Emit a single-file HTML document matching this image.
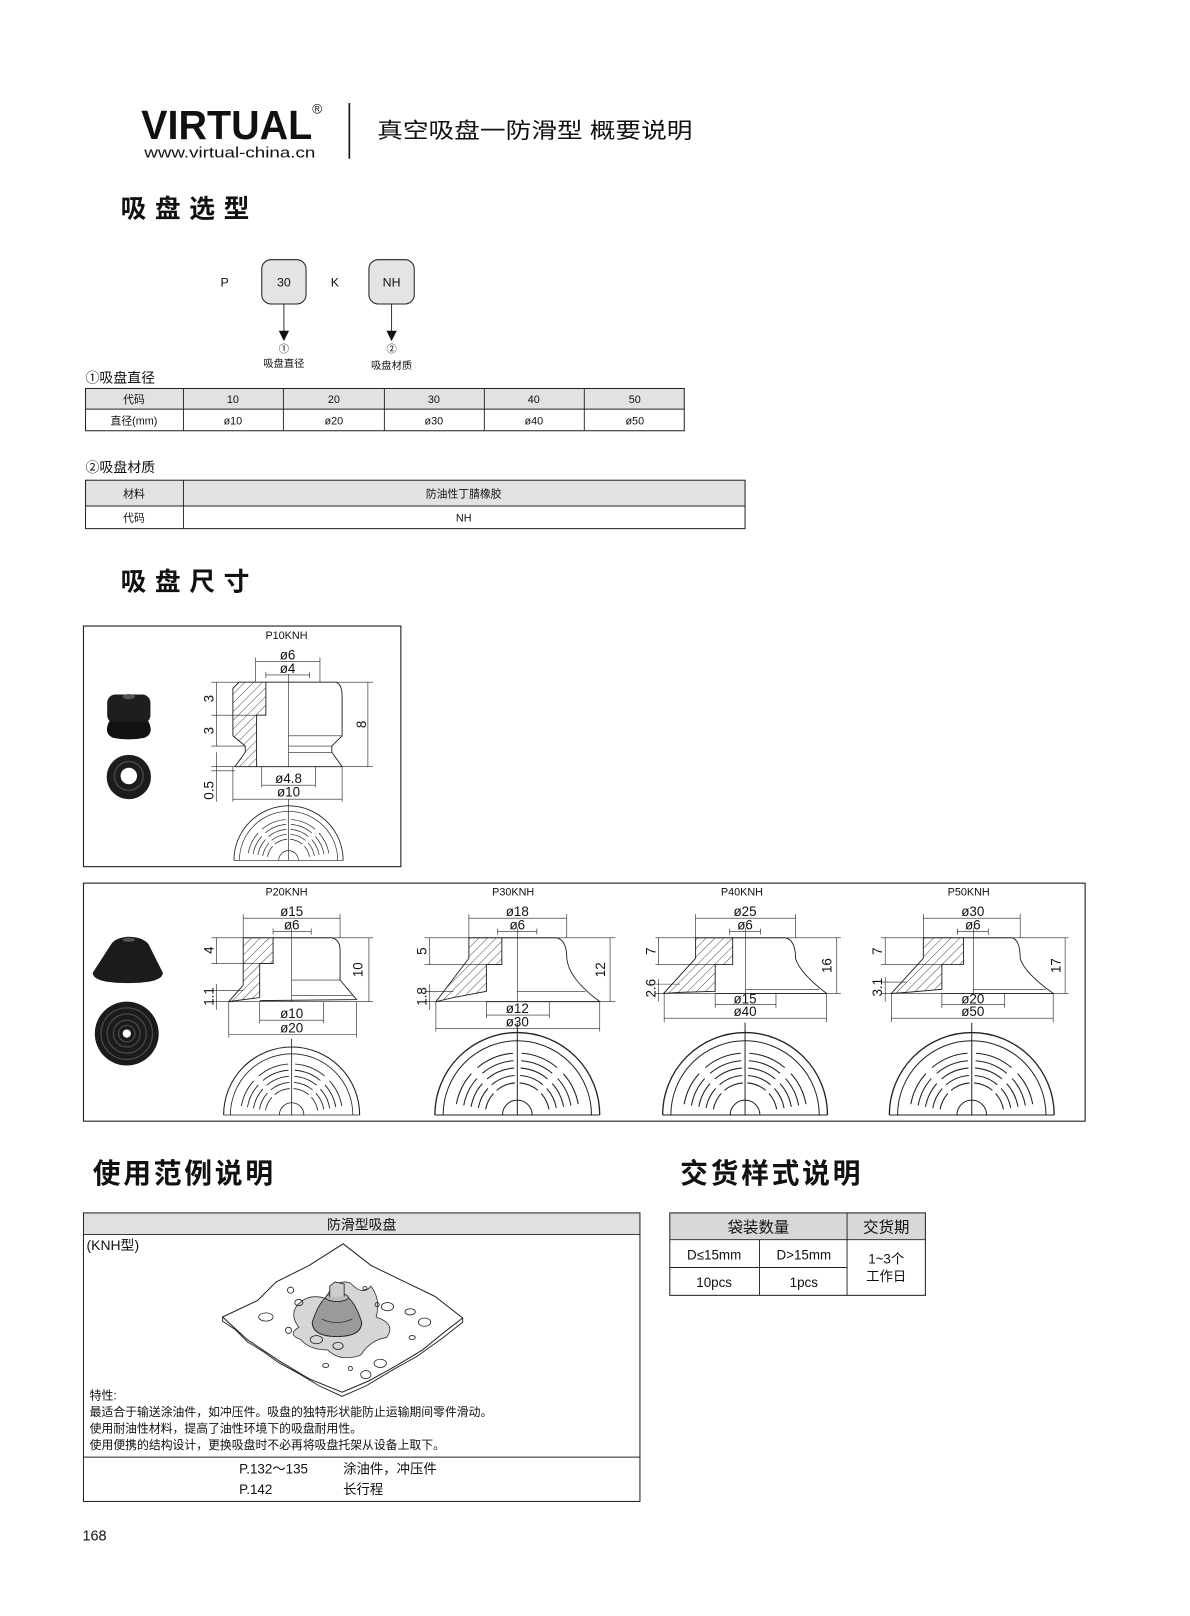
<!DOCTYPE html>
<html><head><meta charset="utf-8">
<style>
html,body{margin:0;padding:0;background:#fff}
svg{display:block}
text{font-family:"Liberation Sans","Noto Sans CJK SC",sans-serif;fill:#111}
.d{font-size:13px;fill:#222}
.ln{stroke:#222;stroke-width:0.9;fill:none}
.th{stroke:#222;stroke-width:0.6;fill:none}
</style></head><body>
<svg width="1190" height="1616" viewBox="0 0 1190 1616" xmlns="http://www.w3.org/2000/svg">
<defs>
<pattern id="h" width="6" height="6" patternUnits="userSpaceOnUse" patternTransform="rotate(45)">
<line x1="0" y1="0" x2="0" y2="6" stroke="#222" stroke-width="0.8"/>
</pattern>
<g id="bv" fill="none" stroke="#222">
<path d="M-100,0 A100,100 0 0 1 100,0" stroke-width="1.6"/>
<path d="M-90,0 A90,90 0 0 1 90,0" stroke-width="1.2"/>
<g stroke-width="1.3">
<path d="M38.4,-6.8 A39,39 0 0 0 29,-26.1 M25.1,-29.9 A39,39 0 0 0 2.7,-38.9 M-2.7,-38.9 A39,39 0 0 0 -25.1,-29.9 M-29,-26.1 A39,39 0 0 0 -38.4,-6.8"/>
<path d="M47.3,-8.4 A48,48 0 0 0 35.7,-32.1 M30.9,-36.8 A48,48 0 0 0 3.4,-47.9 M-3.4,-47.9 A48,48 0 0 0 -30.9,-36.8 M-35.7,-32.1 A48,48 0 0 0 -47.3,-8.4"/>
<path d="M56.1,-9.9 A57,57 0 0 0 42.4,-38.1 M36.7,-43.7 A57,57 0 0 0 4,-56.9 M-4,-56.9 A57,57 0 0 0 -36.7,-43.7 M-42.4,-38.1 A57,57 0 0 0 -56.1,-9.9"/>
<path d="M65,-11.5 A66,66 0 0 0 49,-44.2 M42.4,-50.6 A66,66 0 0 0 4.6,-65.8 M-4.6,-65.8 A66,66 0 0 0 -42.4,-50.6 M-49,-44.2 A66,66 0 0 0 -65,-11.5"/>
<path d="M73.9,-13.1 A75,75 0 0 0 55.7,-50.2 M48.2,-57.5 A75,75 0 0 0 5.2,-74.9 M-5.2,-74.9 A75,75 0 0 0 -48.2,-57.5 M-55.7,-50.2 A75,75 0 0 0 -73.9,-13.1"/>
</g>
<path d="M-18,0 A18,18 0 0 1 18,0" stroke-width="1.2"/>
<line x1="0" y1="-112" x2="0" y2="0" stroke-width="1.2"/>
<line x1="-100" y1="0" x2="100" y2="0" stroke-width="1.2"/>
</g>
</defs>
<g transform="scale(1.0305)">
<text x="137" y="135" font-size="40" font-weight="bold" textLength="166" lengthAdjust="spacingAndGlyphs">VIRTUAL</text>
<text x="303" y="110" font-size="13">®</text>
<text x="140" y="153" font-size="14" textLength="166" lengthAdjust="spacingAndGlyphs">www.virtual-china.cn</text>
<line x1="339" y1="100" x2="339" y2="154" stroke="#111" stroke-width="1.6"/>
<text x="366" y="134" font-size="21" textLength="306" lengthAdjust="spacingAndGlyphs">真空吸盘一防滑型  概要说明</text>
<text x="117" y="211" font-size="25" font-weight="bold" textLength="125" lengthAdjust="spacing">吸盘选型</text>

<text x="218" y="278" font-size="12" text-anchor="middle">P</text>
<rect x="254" y="252" width="43" height="43" rx="9" fill="#e4e4e4" stroke="#222" stroke-width="1"/>
<text x="275.5" y="278" font-size="12" text-anchor="middle">30</text>
<text x="325" y="278" font-size="12" text-anchor="middle">K</text>
<rect x="358" y="252" width="44" height="43" rx="9" fill="#e4e4e4" stroke="#222" stroke-width="1"/>
<text x="380" y="278" font-size="12" text-anchor="middle">NH</text>
<line x1="275.5" y1="295" x2="275.5" y2="322" class="ln"/>
<polygon points="270.5,321 280.5,321 275.5,331" fill="#111"/>
<line x1="380" y1="295" x2="380" y2="322" class="ln"/>
<polygon points="375,321 385,321 380,331" fill="#111"/>
<text x="275.5" y="342" font-size="10" text-anchor="middle">①</text>
<text x="275.5" y="356" font-size="10" text-anchor="middle">吸盘直径</text>
<text x="380" y="342" font-size="10" text-anchor="middle">②</text>
<text x="380" y="358" font-size="10" text-anchor="middle">吸盘材质</text>

<text x="83" y="371" font-size="13.5">①吸盘直径</text>
<rect x="83" y="377" width="581" height="20" fill="#e2e2e2"/>
<rect x="83" y="377" width="581" height="41" fill="none" stroke="#222" stroke-width="1"/>
<line x1="83" y1="397" x2="664" y2="397" class="ln"/>
<g class="ln"><line x1="178" y1="377" x2="178" y2="418"/><line x1="275" y1="377" x2="275" y2="418"/><line x1="373" y1="377" x2="373" y2="418"/><line x1="470" y1="377" x2="470" y2="418"/><line x1="567" y1="377" x2="567" y2="418"/></g>
<g font-size="10.5" text-anchor="middle">
<text x="130" y="391">代码</text><text x="226" y="391">10</text><text x="324" y="391">20</text><text x="421" y="391">30</text><text x="518" y="391">40</text><text x="616" y="391">50</text>
<text x="130" y="412">直径(mm)</text><text x="226" y="412">ø10</text><text x="324" y="412">ø20</text><text x="421" y="412">ø30</text><text x="518" y="412">ø40</text><text x="616" y="412">ø50</text>
</g>
<text x="83" y="458" font-size="13.5">②吸盘材质</text>
<rect x="83" y="466" width="640" height="25" fill="#e2e2e2"/>
<rect x="83" y="466" width="640" height="47" fill="none" stroke="#222" stroke-width="1"/>
<line x1="83" y1="491" x2="723" y2="491" class="ln"/>
<line x1="178" y1="466" x2="178" y2="513" class="ln"/>
<g font-size="10.5" text-anchor="middle">
<text x="130" y="483">材料</text><text x="450" y="483">防油性丁腈橡胶</text>
<text x="130" y="506">代码</text><text x="450" y="506">NH</text>
</g>

<text x="117" y="573" font-size="25" font-weight="bold" textLength="125" lengthAdjust="spacing">吸盘尺寸</text>

<rect x="81" y="607.5" width="308" height="233.5" fill="none" stroke="#222" stroke-width="1.1"/>
<text x="278" y="620" font-size="10.5" text-anchor="middle">P10KNH</text>
<rect x="104" y="674" width="42" height="28" rx="8" fill="#1e1e1e"/>
<ellipse cx="125" cy="676" rx="6" ry="2.5" fill="#555"/>
<path d="M106,700 L144,700 Q150,712 140,716 Q125,719 110,716 Q100,712 106,700Z" fill="#111"/>
<circle cx="125" cy="754" r="21.5" fill="#1c1c1c"/>
<circle cx="125" cy="753" r="14" fill="none" stroke="#444" stroke-width="1.5"/>
<circle cx="125" cy="753" r="8" fill="#fff"/>
<polygon points="232,662 258,662 258,694 249,694 249,744 228,744 238,730 238,724 226,714 226,668" fill="url(#h)" stroke="#222" stroke-width="0.9"/>
<path class="ln" d="M258,662 L326,662 Q332,664 332,676 L332,714 L322,724 L322,730 L332,744 L249,744"/>
<line class="th" x1="280" y1="654" x2="280" y2="744"/>
<line class="th" x1="280" y1="714" x2="332" y2="714"/>
<line class="th" x1="280" y1="724" x2="322" y2="724"/>
<line class="th" x1="280" y1="730" x2="322" y2="730"/>
<g class="th">
<line x1="205" y1="662" x2="362" y2="662"/><line x1="205" y1="694" x2="258" y2="694"/><line x1="205" y1="724" x2="238" y2="724"/>
<line x1="205" y1="744" x2="362" y2="744"/><line x1="205" y1="748" x2="228" y2="748"/>
<line x1="210" y1="662" x2="210" y2="724"/><line x1="210" y1="730" x2="210" y2="778"/>
<line x1="357" y1="662" x2="357" y2="744"/>
<line x1="248" y1="638" x2="248" y2="662"/><line x1="310.5" y1="638" x2="310.5" y2="662"/>
<line x1="248" y1="642" x2="310.5" y2="642"/>
<line x1="258" y1="655" x2="300.5" y2="655"/><line x1="258" y1="652" x2="258" y2="658"/><line x1="300.5" y1="652" x2="300.5" y2="658"/>
<line x1="254" y1="744" x2="254" y2="764"/><line x1="306" y1="744" x2="306" y2="764"/><line x1="254" y1="762" x2="306" y2="762"/>
<line x1="226" y1="744" x2="226" y2="778"/><line x1="332" y1="744" x2="332" y2="778"/><line x1="226" y1="775.5" x2="332" y2="775.5"/>
</g>
<g class="d" text-anchor="middle">
<text x="279" y="640">ø6</text><text x="279" y="653">ø4</text>
<text x="280" y="760">ø4.8</text><text x="280" y="773">ø10</text>
<text transform="translate(207,678) rotate(-90)">3</text>
<text transform="translate(207,709) rotate(-90)">3</text>
<text transform="translate(207,767) rotate(-90)">0.5</text>
<text transform="translate(355,703) rotate(-90)">8</text>
</g>
<use href="#bv" transform="translate(280,835) scale(0.53)"/>

<rect x="81" y="857" width="972" height="231" fill="none" stroke="#222" stroke-width="1.1"/>
<g font-size="10.5" text-anchor="middle">
<text x="278" y="869">P20KNH</text><text x="498" y="869">P30KNH</text><text x="720" y="869">P40KNH</text><text x="940" y="869">P50KNH</text>
</g>
<path d="M108,916 Q112,910 124,909 Q138,909 144,916 L158,944 Q158,954 124,954 Q90,954 90,944 Z" fill="#1b1b1b"/>
<ellipse cx="125" cy="912" rx="6" ry="2" fill="#555"/>
<circle cx="123" cy="1003" r="31" fill="#1b1b1b"/>
<g fill="none" stroke="#4a4a4a" stroke-width="1.2"><circle cx="123" cy="1003" r="25"/><circle cx="123" cy="1003" r="19"/><circle cx="123" cy="1003" r="13"/><circle cx="123" cy="1003" r="8"/></g>
<circle cx="123" cy="1003" r="4" fill="#fff"/>

<polygon points="236,910 265,910 265,935 252,935 252,968 222,972 236,956" fill="url(#h)" stroke="#222" stroke-width="0.9"/>
<path class="ln" d="M265,910 L322,910 Q330,912 330,922 L330,951 L346,970 L252,971"/>
<g class="th">
<line x1="283" y1="900" x2="283" y2="972"/><line x1="283" y1="951" x2="330" y2="951"/><line x1="283" y1="966" x2="342" y2="966"/>
<line x1="205" y1="910" x2="362" y2="910"/><line x1="205" y1="935" x2="265" y2="935"/><line x1="205" y1="961" x2="236" y2="961"/><line x1="205" y1="972" x2="362" y2="972"/>
<line x1="210" y1="910" x2="210" y2="935"/><line x1="210" y1="955" x2="210" y2="980"/>
<line x1="358" y1="910" x2="358" y2="972"/>
<line x1="236" y1="887" x2="236" y2="910"/><line x1="330" y1="887" x2="330" y2="910"/><line x1="236" y1="891" x2="330" y2="891"/>
<line x1="265" y1="904" x2="302" y2="904"/><line x1="265" y1="901" x2="265" y2="907"/><line x1="302" y1="901" x2="302" y2="907"/>
<line x1="252" y1="972" x2="252" y2="993"/><line x1="314" y1="972" x2="314" y2="993"/><line x1="252" y1="990" x2="314" y2="990"/>
<line x1="222" y1="972" x2="222" y2="1007"/><line x1="346" y1="972" x2="346" y2="1007"/><line x1="222" y1="1004" x2="346" y2="1004"/>
</g>
<g class="d" text-anchor="middle">
<text x="283" y="889">ø15</text><text x="283" y="902">ø6</text><text x="283" y="988">ø10</text><text x="283" y="1002">ø20</text>
<text transform="translate(207,922) rotate(-90)">4</text>
<text transform="translate(207,967) rotate(-90)">1.1</text>
<text transform="translate(352,941) rotate(-90)">10</text>
</g>
<use href="#bv" transform="translate(283,1082) scale(0.66)"/>

<polygon points="455,910 487,910 487,936 472,936 472,962 440,968 423,972 455,930" fill="url(#h)" stroke="#222" stroke-width="0.9"/>
<path class="ln" d="M487,910 L540,910 Q550,912 550,930 Q552,950 582,972 L472,972"/>
<g class="th">
<line x1="502" y1="900" x2="502" y2="972"/><line x1="502" y1="962" x2="568" y2="962"/>
<line x1="412" y1="910" x2="597" y2="910"/><line x1="412" y1="936" x2="487" y2="936"/><line x1="412" y1="962" x2="440" y2="962"/><line x1="412" y1="972" x2="597" y2="972"/>
<line x1="417" y1="910" x2="417" y2="936"/><line x1="417" y1="955" x2="417" y2="980"/>
<line x1="592" y1="910" x2="592" y2="972"/>
<line x1="455" y1="887" x2="455" y2="910"/><line x1="550" y1="887" x2="550" y2="910"/><line x1="455" y1="891" x2="550" y2="891"/>
<line x1="483" y1="904" x2="521" y2="904"/><line x1="483" y1="901" x2="483" y2="907"/><line x1="521" y1="901" x2="521" y2="907"/>
<line x1="472" y1="972" x2="472" y2="988"/><line x1="533" y1="972" x2="533" y2="988"/><line x1="472" y1="985" x2="533" y2="985"/>
<line x1="423" y1="972" x2="423" y2="1001"/><line x1="582" y1="972" x2="582" y2="1001"/><line x1="423" y1="998" x2="582" y2="998"/>
</g>
<g class="d" text-anchor="middle">
<text x="502" y="889">ø18</text><text x="502" y="902">ø6</text><text x="502" y="983">ø12</text><text x="502" y="996">ø30</text>
<text transform="translate(414,923) rotate(-90)">5</text>
<text transform="translate(414,967) rotate(-90)">1.8</text>
<text transform="translate(587,941) rotate(-90)">12</text>
</g>
<use href="#bv" transform="translate(502,1082) scale(0.8)"/>

<polygon points="675,910 711,910 711,936 694,936 694,962 660,963 644,964 675,930" fill="url(#h)" stroke="#222" stroke-width="0.9"/>
<path class="ln" d="M711,910 L762,910 Q772,912 772,930 Q776,944 802,964 L694,964"/>
<g class="th">
<line x1="723.6" y1="900" x2="723.6" y2="964"/><line x1="723.6" y1="960" x2="795" y2="960"/>
<line x1="636" y1="910" x2="816" y2="910"/><line x1="636" y1="936" x2="694" y2="936"/><line x1="636" y1="955" x2="660" y2="955"/><line x1="636" y1="964" x2="816" y2="964"/>
<line x1="639" y1="910" x2="639" y2="936"/><line x1="639" y1="950" x2="639" y2="972"/>
<line x1="812" y1="910" x2="812" y2="964"/>
<line x1="675" y1="887" x2="675" y2="910"/><line x1="772" y1="887" x2="772" y2="910"/><line x1="675" y1="891" x2="772" y2="891"/>
<line x1="708" y1="904" x2="738" y2="904"/><line x1="708" y1="901" x2="708" y2="907"/><line x1="738" y1="901" x2="738" y2="907"/>
<line x1="694" y1="964" x2="694" y2="978"/><line x1="753" y1="964" x2="753" y2="978"/><line x1="694" y1="975" x2="753" y2="975"/>
<line x1="644.5" y1="964" x2="644.5" y2="992"/><line x1="802" y1="964" x2="802" y2="992"/><line x1="644.5" y1="988" x2="802" y2="988"/>
</g>
<g class="d" text-anchor="middle">
<text x="723" y="889">ø25</text><text x="723" y="902">ø6</text><text x="723" y="974">ø15</text><text x="723" y="986">ø40</text>
<text transform="translate(636,923) rotate(-90)">7</text>
<text transform="translate(636,959) rotate(-90)">2.6</text>
<text transform="translate(807,937) rotate(-90)">16</text>
</g>
<use href="#bv" transform="translate(723,1082) scale(0.8)"/>

<polygon points="896,910 935,910 935,936 914,936 914,960 880,963 865,964 896,930" fill="url(#h)" stroke="#222" stroke-width="0.9"/>
<path class="ln" d="M935,910 L982,910 Q990,912 990,930 Q994,944 1022,964 L914,964"/>
<g class="th">
<line x1="944.5" y1="900" x2="944.5" y2="964"/><line x1="944.5" y1="960" x2="1015" y2="960"/>
<line x1="855" y1="910" x2="1037" y2="910"/><line x1="855" y1="936" x2="914" y2="936"/><line x1="855" y1="953" x2="880" y2="953"/><line x1="855" y1="964" x2="1037" y2="964"/>
<line x1="859" y1="910" x2="859" y2="936"/><line x1="859" y1="948" x2="859" y2="972"/>
<line x1="1033.6" y1="910" x2="1033.6" y2="964"/>
<line x1="896" y1="887" x2="896" y2="910"/><line x1="990" y1="887" x2="990" y2="910"/><line x1="896" y1="891" x2="990" y2="891"/>
<line x1="929" y1="904" x2="959" y2="904"/><line x1="929" y1="901" x2="929" y2="907"/><line x1="959" y1="901" x2="959" y2="907"/>
<line x1="914" y1="964" x2="914" y2="978"/><line x1="975" y1="964" x2="975" y2="978"/><line x1="914" y1="975" x2="975" y2="975"/>
<line x1="865" y1="964" x2="865" y2="992"/><line x1="1022" y1="964" x2="1022" y2="992"/><line x1="865" y1="988" x2="1022" y2="988"/>
</g>
<g class="d" text-anchor="middle">
<text x="944" y="889">ø30</text><text x="944" y="902">ø6</text><text x="944" y="974">ø20</text><text x="944" y="986">ø50</text>
<text transform="translate(856,923) rotate(-90)">7</text>
<text transform="translate(856,958) rotate(-90)">3.1</text>
<text transform="translate(1029,937) rotate(-90)">17</text>
</g>
<use href="#bv" transform="translate(943,1082) scale(0.8)"/>

<text x="90" y="1148" font-size="27" font-weight="bold" textLength="175" lengthAdjust="spacing">使用范例说明</text>
<text x="660" y="1148" font-size="27" font-weight="bold" textLength="175" lengthAdjust="spacing">交货样式说明</text>

<rect x="81" y="1177" width="540" height="21" fill="#e0e0e0"/>
<rect x="81" y="1177" width="540" height="280" fill="none" stroke="#222" stroke-width="1"/>
<line x1="81" y1="1198" x2="621" y2="1198" class="ln"/>
<line x1="81" y1="1414" x2="621" y2="1414" class="ln"/>
<text x="351" y="1193" font-size="13.5" text-anchor="middle">防滑型吸盘</text>
<text x="84" y="1213" font-size="13.5">(KNH型)</text>
<path d="M216,1278 L250,1262 L268,1244 L300,1228 L333,1207 L360,1228 L395,1245 L422,1258 L449,1279 L432,1292 L410,1310 L385,1325 L358,1340 L332,1351 L300,1338 L270,1320 L240,1300 Z" fill="#fff" stroke="#222" stroke-width="1"/>
<path d="M216,1278 L216,1282 L228,1290 L240,1302 L256,1312 L270,1322 L290,1333 L310,1345 L332,1355 L355,1345 L380,1330 L405,1316 L430,1298 L449,1283 L449,1279" fill="none" stroke="#222" stroke-width="0.9"/>
<path d="M290,1265 Q300,1255 316,1260 Q325,1240 340,1245 Q352,1258 360,1248 Q370,1262 365,1278 Q385,1285 375,1298 Q360,1300 350,1315 Q330,1322 318,1310 Q300,1310 292,1300 Q278,1295 290,1288 Q280,1275 290,1265Z" fill="#d6d6d6" stroke="#333" stroke-width="0.8"/>
<path d="M303,1283 Q310,1262 318,1258 L336,1258 Q344,1262 351,1283 Q351,1297 327,1297 Q303,1297 303,1283Z" fill="#9a9a9a" stroke="#222" stroke-width="0.9"/>
<ellipse cx="327" cy="1259" rx="11" ry="4" fill="#bbb" stroke="#222" stroke-width="0.8"/>
<path d="M320,1259 L320,1248 L325,1244 L334,1246 L334,1258" fill="#ccc" stroke="#222" stroke-width="0.8"/>
<path d="M312,1280 Q327,1287 342,1280" fill="none" stroke="#333" stroke-width="0.8"/>
<g fill="none" stroke="#222" stroke-width="0.8">
<ellipse cx="258" cy="1278" rx="7" ry="4"/><ellipse cx="282" cy="1252" rx="3" ry="3"/><ellipse cx="290" cy="1264" rx="4" ry="3"/><ellipse cx="307" cy="1300" rx="6" ry="4"/><ellipse cx="328" cy="1306" rx="5" ry="3.5"/><ellipse cx="355" cy="1334" rx="5" ry="4"/><ellipse cx="376" cy="1268" rx="6" ry="4"/><ellipse cx="398" cy="1273" rx="5" ry="3"/><ellipse cx="412" cy="1283" rx="6" ry="4"/><ellipse cx="369" cy="1323" rx="6" ry="4"/><ellipse cx="400" cy="1298" rx="3" ry="2"/><ellipse cx="280" cy="1291" rx="3" ry="3"/><ellipse cx="316" cy="1325" rx="3" ry="2"/><ellipse cx="340" cy="1328" rx="2" ry="2"/><ellipse cx="366" cy="1266" rx="2" ry="2"/><ellipse cx="354" cy="1250" rx="2" ry="1.5"/>
</g>
<g font-size="11.5">
<text x="87" y="1358">特性:</text>
<text x="87" y="1374">最适合于输送涂油件，如冲压件。吸盘的独特形状能防止运输期间零件滑动。</text>
<text x="87" y="1390">使用耐油性材料，提高了油性环境下的吸盘耐用性。</text>
<text x="87" y="1406">使用便携的结构设计，更换吸盘时不必再将吸盘托架从设备上取下。</text>
</g>
<g font-size="13">
<text x="232" y="1430">P.132～135</text><text x="333" y="1430">涂油件，冲压件</text>
<text x="232" y="1450">P.142</text><text x="333" y="1450">长行程</text>
</g>

<rect x="650" y="1177" width="248" height="26" fill="#d8d8d8"/>
<rect x="650" y="1177" width="248" height="80" fill="none" stroke="#222" stroke-width="1"/>
<g class="ln"><line x1="650" y1="1203" x2="898" y2="1203"/><line x1="650" y1="1230" x2="822" y2="1230"/><line x1="737" y1="1203" x2="737" y2="1257"/><line x1="822" y1="1177" x2="822" y2="1257"/></g>
<g text-anchor="middle">
<text x="736" y="1196" font-size="15">袋装数量</text><text x="860" y="1196" font-size="15">交货期</text>
<text x="693" y="1222" font-size="13">D≤15mm</text><text x="780" y="1222" font-size="13">D&gt;15mm</text>
<text x="693" y="1249" font-size="13">10pcs</text><text x="780" y="1249" font-size="13">1pcs</text>
<text x="860" y="1226" font-size="13">1~3个</text><text x="860" y="1243" font-size="13">工作日</text>
</g>

<text x="80" y="1495" font-size="14">168</text>
</g>
</svg>
</body></html>
